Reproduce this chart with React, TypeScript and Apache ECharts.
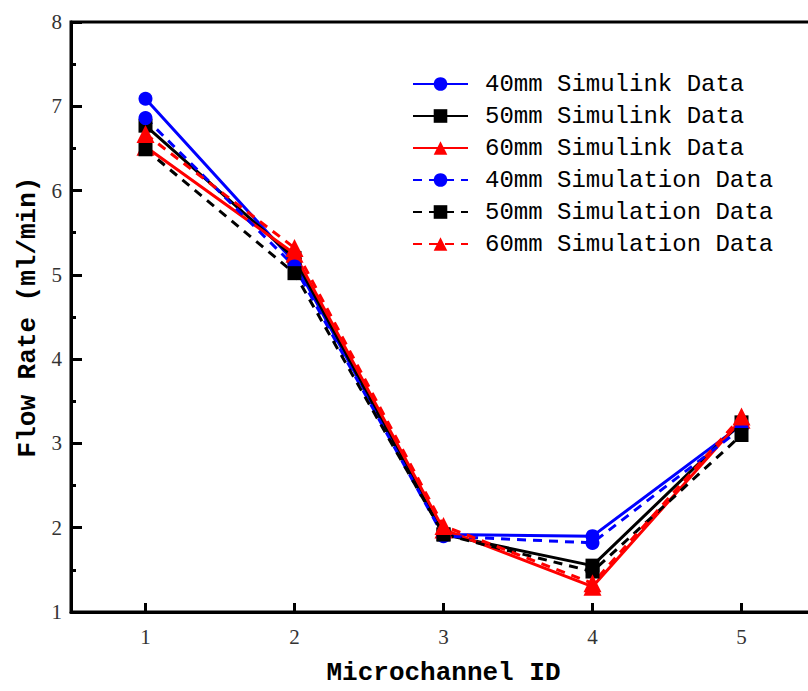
import React, { useEffect, useRef } from "react";
import * as echarts from "echarts";

const categories = ["1", "2", "3", "4", "5"];
const sim40 = [7.09, 5.15, 1.92, 1.9, 3.22];
const sim50 = [6.77, 5.2, 1.92, 1.55, 3.25];
const sim60 = [6.52, 5.25, 1.98, 1.3, 3.28];
const cfd40 = [6.86, 5.1, 1.9, 1.82, 3.18];
const cfd50 = [6.49, 5.02, 1.92, 1.48, 3.1];
const cfd60 = [6.67, 5.32, 2.02, 1.34, 3.32];

const seriesDefs = [
  { name: "40mm Simulink Data", data: sim40, color: "#0000ff", symbol: "circle", dashed: false },
  { name: "50mm Simulink Data", data: sim50, color: "#000000", symbol: "rect", dashed: false },
  { name: "60mm Simulink Data", data: sim60, color: "#ff0000", symbol: "triangle", dashed: false },
  { name: "40mm Simulation Data", data: cfd40, color: "#0000ff", symbol: "circle", dashed: true },
  { name: "50mm Simulation Data", data: cfd50, color: "#000000", symbol: "rect", dashed: true },
  { name: "60mm Simulation Data", data: cfd60, color: "#ff0000", symbol: "triangle", dashed: true },
];

export default function App() {
  const ref = useRef<HTMLDivElement>(null);
  useEffect(() => {
    if (!ref.current) return;
    const chart = echarts.init(ref.current, null, { renderer: "svg" });
    chart.setOption({
      animation: false,
      backgroundColor: "#ffffff",
      grid: {
        left: 71,
        right: 14,
        top: 22,
        bottom: 73,
        show: true,
        borderColor: "#000",
        borderWidth: 3,
      },
      legend: {
        orient: "vertical",
        left: 407,
        top: 67,
        itemWidth: 55,
        itemHeight: 17,
        itemGap: 8,
        textStyle: {
          fontFamily: "Liberation Mono",
          fontSize: 24,
          lineHeight: 24,
          color: "#000",
          padding: [0, 0, 0, 12],
        },
        data: seriesDefs.map((s) => s.name),
      },
      xAxis: {
        type: "category",
        data: categories,
        boundaryGap: true,
        name: "Microchannel ID",
        nameLocation: "middle",
        nameGap: 48,
        nameTextStyle: { fontFamily: "Liberation Mono", fontSize: 26, fontWeight: "bold", color: "#000" },
        axisLine: { show: true, lineStyle: { color: "#000", width: 3 } },
        axisTick: { show: true, inside: true, alignWithLabel: true, length: 9, lineStyle: { width: 3, color: "#000" } },
        axisLabel: { fontFamily: "Liberation Serif", fontSize: 21, color: "#333", margin: 14 },
        splitLine: { show: false },
      },
      yAxis: {
        type: "value",
        min: 1,
        max: 8,
        interval: 1,
        name: "Flow Rate (ml/min)",
        nameLocation: "middle",
        nameGap: 20,
        nameTextStyle: { fontFamily: "Liberation Mono", fontSize: 26, fontWeight: "bold", color: "#000" },
        axisLine: { show: true, lineStyle: { color: "#000", width: 3 } },
        axisTick: { show: true, inside: true, length: 11, lineStyle: { width: 3, color: "#000" } },
        minorTick: { show: true, splitNumber: 2, length: 5, lineStyle: { width: 3, color: "#000" } },
        axisLabel: { fontFamily: "Liberation Serif", fontSize: 21, color: "#333", margin: 9 },
        splitLine: { show: false },
      },
      series: seriesDefs.map((s) => ({
        name: s.name,
        type: "line",
        data: s.data,
        symbol: s.symbol,
        symbolSize: s.symbol === "triangle" ? 18 : 14,
        itemStyle: { color: s.color },
        lineStyle: { color: s.color, width: 3, type: s.dashed ? [9, 7] : "solid" },
      })),
    });
    return () => chart.dispose();
  }, []);
  return (
    <div style={{ position: "fixed", left: 0, top: 0, width: 808, height: 691, overflow: "hidden", background: "#fff" }}>
      <div ref={ref} style={{ width: 830, height: 691 }} />
    </div>
  );
}
